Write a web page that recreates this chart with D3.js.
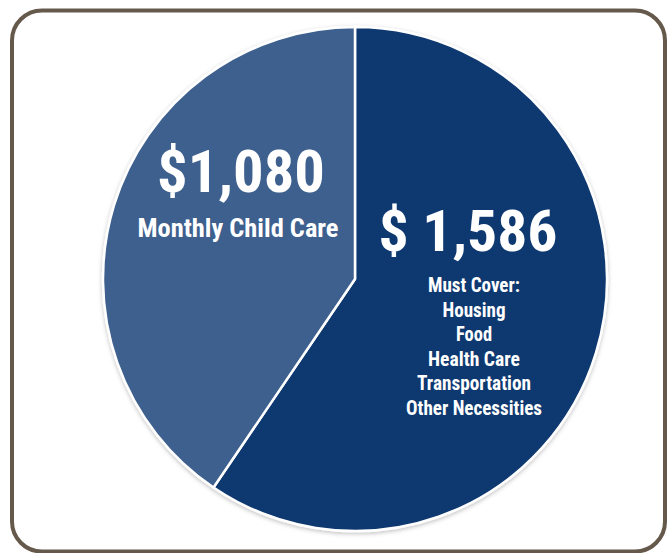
<!DOCTYPE html>
<html>
<head>
<meta charset="utf-8">
<script src="https://cdn.jsdelivr.net/npm/d3@7"></script>
<style>
  html, body { margin: 0; padding: 0; background: #ffffff; }
  svg { display: block; }
  text { font-family: "Liberation Sans Narrow", "Roboto Condensed", "DejaVu Sans Condensed", sans-serif; font-weight: bold; fill: #ffffff; }
</style>
</head>
<body>
<svg id="chart" width="669" height="553"></svg>
<script>
// Monthly budget split
const categories = ["Must Cover", "Monthly Child Care"];
const values = [1586, 1080];
const valuePrefixes = ["$ ", "$"];
const coverItems = ["Must Cover:", "Housing", "Food", "Health Care", "Transportation", "Other Necessities"];
const colors = ["#0d376f", "#3e608e"];

const svg = d3.select("#chart");

// Rounded frame
svg.append("rect")
  .attr("x", 12).attr("y", 10.5)
  .attr("width", 653).attr("height", 541)
  .attr("rx", 30).attr("ry", 30)
  .attr("fill", "#ffffff")
  .attr("stroke", "#65594c")
  .attr("stroke-width", 4);

const defs = svg.append("defs");
const shadow = defs.append("filter").attr("id", "pieShadow")
  .attr("x", "-10%").attr("y", "-10%").attr("width", "120%").attr("height", "120%");
shadow.append("feDropShadow")
  .attr("dx", 0).attr("dy", 1.5).attr("stdDeviation", 2)
  .attr("flood-color", "#000").attr("flood-opacity", 0.25);

const cx = 355, cy = 279, r = 252;

const pie = d3.pie().sort(null).value(d => d.value);
const arcs = pie(categories.map((c, i) => ({ name: c, value: values[i], color: colors[i] })));
const arc = d3.arc().innerRadius(0).outerRadius(r);

const g = svg.append("g").attr("transform", `translate(${cx},${cy})`);

g.append("g").attr("filter", "url(#pieShadow)")
  .selectAll("path")
  .data(arcs)
  .join("path")
  .attr("d", arc)
  .attr("fill", d => d.data.color)
  .attr("stroke", "#ffffff")
  .attr("stroke-width", 2.5)
  .attr("stroke-linejoin", "round");

const fmt = d3.format(",");

// Large slice: amount and list of necessities
g.append("text")
  .attr("x", 468 - cx).attr("y", 251 - cy)
  .attr("text-anchor", "middle")
  .attr("font-size", 58)
  .attr("textLength", 179).attr("lengthAdjust", "spacingAndGlyphs")
  .text(valuePrefixes[0] + fmt(values[0]));

const itemWidths = [92, 63, 36, 92, 114, 136];
g.selectAll("text.item")
  .data(coverItems)
  .join("text")
  .attr("class", "item")
  .attr("x", 474 - cx)
  .attr("y", (d, i) => 292 + i * 24.6 - cy)
  .attr("text-anchor", "middle")
  .attr("font-size", 19.5)
  .attr("textLength", (d, i) => itemWidths[i])
  .attr("lengthAdjust", "spacingAndGlyphs")
  .text(d => d);

// Small slice: amount and caption
g.append("text")
  .attr("x", 241 - cx).attr("y", 192 - cy)
  .attr("text-anchor", "middle")
  .attr("font-size", 60)
  .attr("textLength", 168).attr("lengthAdjust", "spacingAndGlyphs")
  .text(valuePrefixes[1] + fmt(values[1]));

g.append("text")
  .attr("x", 238 - cx).attr("y", 237 - cy)
  .attr("text-anchor", "middle")
  .attr("font-size", 25)
  .attr("textLength", 201).attr("lengthAdjust", "spacingAndGlyphs")
  .text(categories[1]);
</script>
</body>
</html>
